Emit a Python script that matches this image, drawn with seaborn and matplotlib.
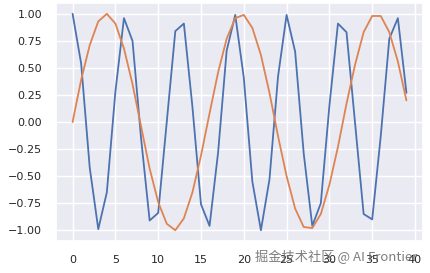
import matplotlib
matplotlib.use("Agg")
import matplotlib.pyplot as plt
import seaborn as sns

x_values = list(range(40))
blue_values = [1.00, 0.54, -0.42, -0.99, -0.65, 0.28, 0.96, 0.75, -0.15, -0.91,
               -0.84, 0.00, 0.84, 0.91, 0.14, -0.76, -0.96, -0.28, 0.66, 0.99,
               0.41, -0.55, -1.00, -0.53, 0.42, 0.99, 0.65, -0.29, -0.96, -0.75,
               0.15, 0.91, 0.83, -0.01, -0.85, -0.90, -0.13, 0.77, 0.96, 0.27]
orange_values = [0.00, 0.39, 0.71, 0.93, 1.00, 0.91, 0.68, 0.35, -0.04, -0.43,
                 -0.74, -0.94, -1.00, -0.89, -0.65, -0.31, 0.08, 0.46, 0.77, 0.96,
                 0.99, 0.87, 0.62, 0.27, -0.13, -0.50, -0.80, -0.97, -0.98, -0.85,
                 -0.58, -0.23, 0.17, 0.53, 0.83, 0.98, 0.98, 0.83, 0.56, 0.20]
watermark = "掘金技术社区 @ AI Frontier"

sns.set_theme(style="darkgrid")
plt.rcParams['font.family'] = ['DejaVu Sans', 'Noto Sans CJK SC']

fig = plt.figure(figsize=(4.3, 2.73), dpi=100)
ax = fig.add_axes([0.130, 0.117, 0.854, 0.872])
pal = sns.color_palette("deep")
sns.lineplot(x=x_values, y=blue_values, ax=ax, color=pal[0], linewidth=1.3)
sns.lineplot(x=x_values, y=orange_values, ax=ax, color=pal[1], linewidth=1.3)
ax.set_xticks([0, 5, 10, 15, 20, 25, 30, 35, 40])
ax.set_yticks([-1.0, -0.75, -0.5, -0.25, 0.0, 0.25, 0.5, 0.75, 1.0])
ax.set_yticklabels(["−1.00", "−0.75", "−0.50", "−0.25", "0.00", "0.25", "0.50", "0.75", "1.00"])
ax.tick_params(labelsize=8, pad=4)

fig.text(255 / 430, 1 - 257 / 273, watermark, ha="left", va="center",
         fontsize=9.5, color="#666666", alpha=0.85,
         family=['Noto Sans CJK SC', 'DejaVu Sans'])

fig.savefig("out.png", dpi=100)
